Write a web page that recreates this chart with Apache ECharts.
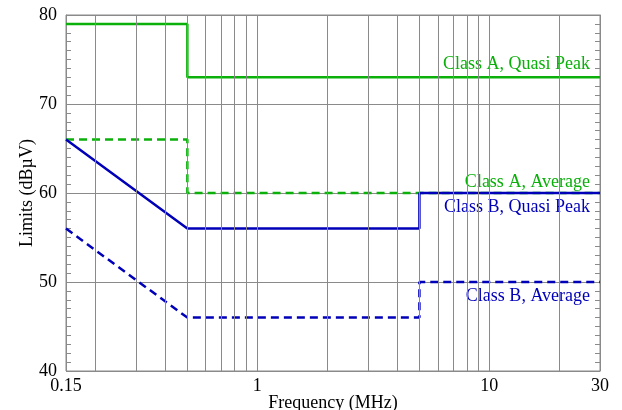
<!DOCTYPE html>
<html>
<head>
<meta charset="utf-8">
<script src="https://cdn.jsdelivr.net/npm/echarts@6/dist/echarts.min.js"></script>
<style>
  html, body { margin: 0; padding: 0; background: #fff; }
  #main { width: 622px; height: 410px; }
</style>
</head>
<body>
<div id="main"></div>
<script>
// frequency (MHz) and limit (dBuV) points of each curve
var classAQpFreq = [0.15, 0.5, 0.5, 30];
var classAQpVal  = [79, 79, 73, 73];
var classAAvFreq = [0.15, 0.5, 0.5, 30];
var classAAvVal  = [66, 66, 60, 60];
var classBQpFreq = [0.15, 0.5, 5, 5, 30];
var classBQpVal  = [66, 56, 56, 60, 60];
var classBAvFreq = [0.15, 0.5, 5, 5, 30];
var classBAvVal  = [56, 46, 46, 50, 50];
var gridFreq = [0.2, 0.3, 0.4, 0.5, 0.6, 0.7, 0.8, 0.9, 1, 2, 3, 4, 5, 6, 7, 8, 9, 10, 20];

var FONT = 'Liberation Serif';
var GREEN = '#0bb00b';
var BLUE = '#0000b8';

function pairs(xs, ys) {
    var out = [];
    for (var i = 0; i < xs.length; i++) {
        out.push([xs[i], ys[i]]);
    }
    return out;
}

function curve(name, xs, ys, color, dashed, vAlign, dy) {
    return {
        name: name,
        type: 'line',
        z: 3,
        symbol: 'none',
        animation: false,
        lineStyle: { color: color, width: 2.5, type: dashed ? [8, 5] : 'solid' },
        endLabel: {
            show: true,
            formatter: name,
            color: color,
            fontFamily: FONT,
            fontSize: 18,
            align: 'right',
            verticalAlign: vAlign,
            distance: 0,
            offset: [-10, dy]
        },
        data: pairs(xs, ys)
    };
}

var chart = echarts.init(document.getElementById('main'));

var yAxisBase = {
    type: 'value',
    min: 40,
    max: 80,
    interval: 10,
    axisLine: { show: true, lineStyle: { color: '#8a8a8a', width: 1 } },
    axisTick: { show: true, inside: true, length: 5, lineStyle: { color: '#8a8a8a' } },
    minorTick: { show: true, splitNumber: 10, length: 5, lineStyle: { color: '#8a8a8a' } }
};

var option = {
    backgroundColor: '#fff',
    textStyle: { fontFamily: FONT },
    grid: {
        left: 66, right: 22, top: 15, bottom: 39,
        outerBoundsMode: 'none',
        containLabel: false,
        show: true, borderColor: '#8a8a8a', borderWidth: 1
    },
    xAxis: {
        type: 'log',
        logBase: 10,
        min: 0.15,
        max: 30,
        name: 'Frequency (MHz)',
        nameLocation: 'middle',
        nameGap: 23,
        nameMoveOverlap: false,
        nameTextStyle: { color: '#000', fontFamily: FONT, fontSize: 18, verticalAlign: 'top' },
        axisLine: { show: false },
        axisTick: { show: false },
        splitLine: { show: false },
        axisLabel: {
            color: '#000', fontFamily: FONT, fontSize: 18, margin: 6,
            showMinLabel: true, showMaxLabel: true
        }
    },
    yAxis: [
        Object.assign({}, yAxisBase, {
            position: 'left',
            name: 'Limits (dBµV)',
            nameLocation: 'middle',
            nameGap: 30,
            nameMoveOverlap: false,
            nameRotate: 90,
            nameTextStyle: { color: '#000', fontFamily: FONT, fontSize: 18 },
            axisLabel: { color: '#000', fontFamily: FONT, fontSize: 18, margin: 9 },
            splitLine: { show: true, lineStyle: { color: '#8a8a8a', width: 1 } }
        }),
        Object.assign({}, yAxisBase, {
            position: 'right',
            axisLabel: { show: false },
            splitLine: { show: false }
        })
    ],
    series: [
        {
            name: 'grid',
            type: 'line',
            z: 1,
            silent: true,
            symbol: 'none',
            data: [],
            markLine: {
                silent: true,
                symbol: 'none',
                animation: false,
                label: { show: false },
                lineStyle: { color: '#8a8a8a', width: 1, type: 'solid' },
                data: gridFreq.map(function (f) { return { xAxis: f }; })
            }
        },
        curve('Class A, Quasi Peak', classAQpFreq, classAQpVal, GREEN, false, 'bottom', -4),
        curve('Class A, Average', classAAvFreq, classAAvVal, GREEN, true, 'bottom', -2),
        curve('Class B, Quasi Peak', classBQpFreq, classBQpVal, BLUE, false, 'top', 5),
        curve('Class B, Average', classBAvFreq, classBAvVal, BLUE, true, 'top', 5)
    ]
};

chart.setOption(option);
</script>
</body>
</html>
